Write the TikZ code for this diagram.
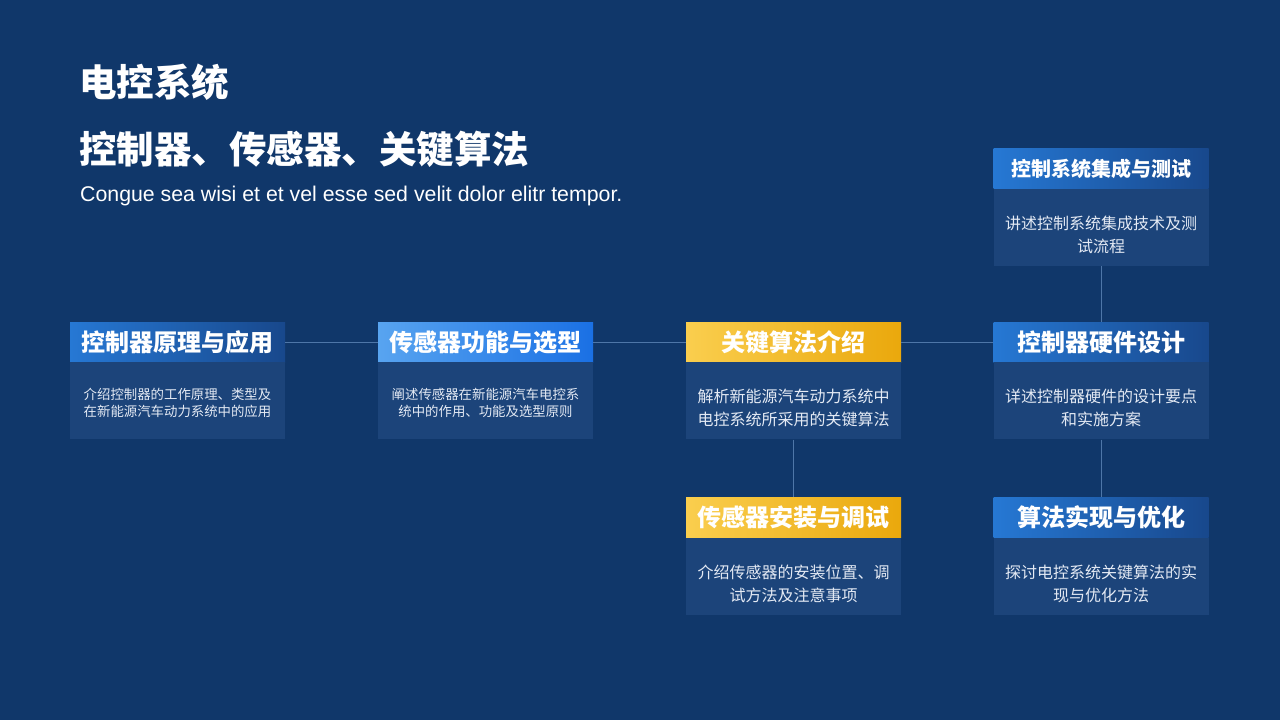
\documentclass[tikz,border=0pt]{standalone}
\usepackage{fontspec}
\setmainfont{Liberation Sans}
\newfontfamily\cjk{Noto Sans CJK SC}
\usetikzlibrary{positioning}

\definecolor{bgc}{RGB}{16,55,106}
\definecolor{cardbg}{RGB}{28,68,122}
\definecolor{linkc}{RGB}{78,118,168}
\definecolor{bodytxt}{RGB}{228,234,244}
\definecolor{headL}{RGB}{38,120,212}
\definecolor{headR}{RGB}{24,72,140}
\definecolor{lightL}{RGB}{88,164,240}
\definecolor{lightR}{RGB}{26,112,228}
\definecolor{goldL}{RGB}{250,206,78}
\definecolor{goldR}{RGB}{234,168,12}

\begin{document}
\begin{tikzpicture}[x=1pt, y=-1pt,
  head/.style={minimum width=215pt, minimum height=40pt, inner sep=0pt, text=white,
    font=\cjk\bfseries\fontsize{24}{28}\selectfont},
  bluehead/.style={head, left color=headL, right color=headR},
  lighthead/.style={head, left color=lightL, right color=lightR},
  goldhead/.style={head, left color=goldL, right color=goldR},
  body/.style={minimum width=215pt, minimum height=77pt, inner sep=0pt, fill=cardbg},
  bodytext/.style={inner sep=0pt, text=bodytxt, align=center, yshift=-7pt,
    font=\cjk\fontsize{16}{23}\selectfont},
  smalltext/.style={bodytext, yshift=5pt, font=\cjk\fontsize{13.4}{17.5}\selectfont},
  link/.style={draw=linkc, line width=0.8pt}]

\fill[bgc] (0,0) rectangle (1280,720);
\useasboundingbox (0,0) rectangle (1280,720);

% titles
\node[anchor=west, inner sep=0pt, text=white, font=\cjk\bfseries\fontsize{37.5}{40}\selectfont] (title) at (79,82) {电控系统};
\node[anchor=west, inner sep=0pt, text=white, font=\cjk\bfseries\fontsize{37.5}{40}\selectfont] (topic) at (79,149) {控制器、传感器、关键算法};
\node[anchor=base west, inner sep=0pt, text=white, font=\fontsize{21.3}{24}\selectfont] (sub) at (80,201) {Congue sea wisi et et vel esse sed velit dolor elitr tempor.};

% main row
\node[bluehead] (ctrl) at (177.5,342) {控制器原理与应用};
\node[body, below=0pt of ctrl] (ctrlbox) {};
\node[smalltext] (ctrltxt) at (ctrlbox) {介绍控制器的工作原理、类型及\\在新能源汽车动力系统中的应用};

\node[lighthead] (sens) at (485.5,342) {传感器功能与选型};
\node[body, below=0pt of sens] (sensbox) {};
\node[smalltext] (senstxt) at (sensbox) {阐述传感器在新能源汽车电控系\\统中的作用、功能及选型原则};

\node[goldhead] (algo) at (793.5,342) {关键算法介绍};
\node[body, below=0pt of algo] (algobox) {};
\node[bodytext] (algotxt) at (algobox) {解析新能源汽车动力系统中\\电控系统所采用的关键算法};

\node[bluehead] (hard) at (1101,342) {控制器硬件设计};
\node[body, below=0pt of hard] (hardbox) {};
\node[bodytext] (hardtxt) at (hardbox) {详述控制器硬件的设计要点\\和实施方案};

% top card
\node[bluehead, font=\cjk\bfseries\fontsize{20}{24}\selectfont] (integ) at (1101,168.5) {控制系统集成与测试};
\node[body, below=0pt of integ] (integbox) {};
\node[bodytext] (integtxt) at (integbox) {讲述控制系统集成技术及测\\试流程};

% bottom row
\node[goldhead] (inst) at (793.5,517.5) {传感器安装与调试};
\node[body, below=0pt of inst] (instbox) {};
\node[bodytext] (insttxt) at (instbox) {介绍传感器的安装位置、调\\试方法及注意事项};

\node[bluehead] (impl) at (1101,517.5) {算法实现与优化};
\node[body, below=0pt of impl] (implbox) {};
\node[bodytext] (impltxt) at (implbox) {探讨电控系统关键算法的实\\现与优化方法};

% connectors
\draw[link] (ctrl.east) -- (sens.west);
\draw[link] (sens.east) -- (algo.west);
\draw[link] (algo.east) -- (hard.west);
\draw[link] (integbox.south) -- (hard.north);
\draw[link] (hardbox.south) -- (impl.north);
\draw[link] (algobox.south) -- (inst.north);
\end{tikzpicture}
\end{document}
